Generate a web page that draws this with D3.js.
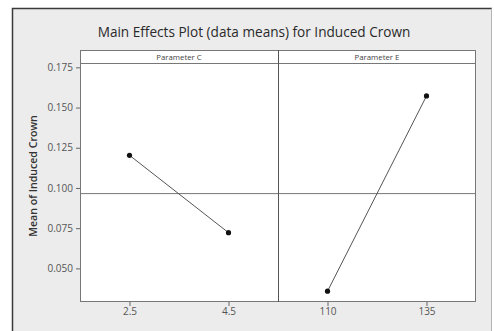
<!DOCTYPE html>
<html>
<head>
<meta charset="utf-8">
<script src="https://cdn.jsdelivr.net/npm/d3@7"></script>
<style>
  html, body { margin: 0; padding: 0; background: #fff; }
  svg { display: block; }
  text { font-family: "Open Sans", "DejaVu Sans", sans-serif; }
</style>
</head>
<body>
<svg id="chart" width="494" height="331"></svg>
<script>
// Factor panels and their level labels
const factors = ["Parameter C", "Parameter E"];
const levelsC = ["2.5", "4.5"];
const levelsE = ["110", "135"];
// Mean response at each level
const meansC = [0.1203, 0.0722];
const meansE = [0.0358, 0.1572];
// Y-axis tick values
const yTicks = [0.050, 0.075, 0.100, 0.125, 0.150, 0.175];
const grandMean = 0.0965;

const panels = [
  { name: factors[0], levels: levelsC, means: meansC },
  { name: factors[1], levels: levelsE, means: meansE }
];

const W = 494, H = 331;
const plot = { left: 80, right: 476, top: 50, strip: 63, bottom: 302 };
const panelW = (plot.right - plot.left) / panels.length;

const svg = d3.select("#chart");

// Outer gray frame
svg.append("rect").attr("x", 12).attr("y", 8).attr("width", 480).attr("height", H - 8)
  .attr("fill", "#ececec");
svg.append("path")
  .attr("d", `M12.5,${H} V8.5 H492`)
  .attr("fill", "none").attr("stroke", "#3a3a3a").attr("stroke-width", 1.5);
svg.append("path")
  .attr("d", `M491.5,8.5 V${H}`)
  .attr("fill", "none").attr("stroke", "#b5b5b5").attr("stroke-width", 1);

// Title
svg.append("text")
  .attr("x", 254).attr("y", 37)
  .attr("text-anchor", "middle")
  .attr("font-size", 13.6)
  .attr("fill", "#2a2a2a")
  .text("Main Effects Plot (data means) for Induced Crown");

const y = d3.scaleLinear().domain([0.0291, 0.1777]).range([plot.bottom, plot.strip]);

// Plot background
svg.append("rect")
  .attr("x", plot.left).attr("y", plot.top)
  .attr("width", plot.right - plot.left).attr("height", plot.bottom - plot.top)
  .attr("fill", "#fff");

// Y axis
const yAxis = svg.append("g")
  .attr("transform", `translate(${plot.left},0)`)
  .call(d3.axisLeft(y).tickValues(yTicks).tickFormat(d3.format(".3f")).tickSize(4).tickPadding(3));
yAxis.select(".domain").remove();
yAxis.selectAll("line").attr("stroke", "#666");
yAxis.selectAll("text").attr("font-size", 10).attr("fill", "#555")
  .attr("font-family", "\"Open Sans\", sans-serif");

// Y label
svg.append("text")
  .attr("transform", `translate(37,176) rotate(-90)`)
  .attr("text-anchor", "middle")
  .attr("font-size", 10.6)
  .attr("font-weight", 600)
  .attr("fill", "#333")
  .text("Mean of Induced Crown");

// Grand mean reference line
svg.append("line")
  .attr("x1", plot.left).attr("x2", plot.right)
  .attr("y1", y(grandMean)).attr("y2", y(grandMean))
  .attr("stroke", "#777").attr("stroke-width", 1);

panels.forEach((p, i) => {
  const x0 = plot.left + i * panelW;
  const x = d3.scalePoint().domain(p.levels).range([x0, x0 + panelW]).padding(0.5);
  const pts = p.levels.map((l, k) => [x(l), y(p.means[k])]);

  // Strip label
  svg.append("text")
    .attr("x", x0 + panelW / 2).attr("y", 60)
    .attr("text-anchor", "middle")
    .attr("font-size", 7.8)
    .attr("fill", "#444")
    .text(p.name);

  // Connecting line and level means
  svg.append("path")
    .attr("d", d3.line()(pts))
    .attr("fill", "none").attr("stroke", "#555").attr("stroke-width", 1);
  svg.selectAll(null).data(pts).enter().append("circle")
    .attr("cx", d => d[0]).attr("cy", d => d[1]).attr("r", 2.6)
    .attr("fill", "#111");

  // X axis for this panel
  const xAxis = svg.append("g")
    .attr("transform", `translate(0,${plot.bottom})`)
    .call(d3.axisBottom(x).tickSize(4).tickPadding(2));
  xAxis.select(".domain").remove();
  xAxis.selectAll("line").attr("stroke", "#666");
  xAxis.selectAll("text").attr("font-size", 10).attr("fill", "#555")
    .attr("font-family", "\"Open Sans\", sans-serif");
});

// Panel frames, strip line and divider
const frame = svg.append("g").attr("fill", "none").attr("stroke", "#777").attr("stroke-width", 1);
frame.append("rect")
  .attr("x", plot.left + 0.5).attr("y", plot.top + 0.5)
  .attr("width", plot.right - plot.left - 1).attr("height", plot.bottom - plot.top - 1);
frame.append("line")
  .attr("x1", plot.left).attr("x2", plot.right)
  .attr("y1", plot.strip + 0.5).attr("y2", plot.strip + 0.5);
frame.append("line")
  .attr("x1", plot.left + panelW + 0.5).attr("x2", plot.left + panelW + 0.5)
  .attr("y1", plot.top).attr("y2", plot.bottom)
  .attr("stroke", "#555");
</script>
</body>
</html>
